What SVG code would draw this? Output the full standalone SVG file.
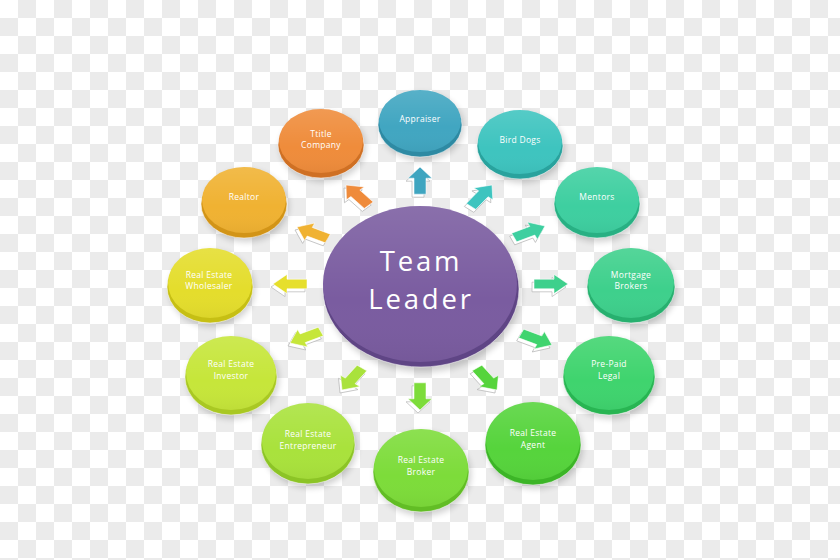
<svg xmlns="http://www.w3.org/2000/svg" xmlns:xlink="http://www.w3.org/1999/xlink" width="840" height="560" viewBox="0 0 840 560">
<defs>
<pattern id="chk" width="36" height="36" patternUnits="userSpaceOnUse">
<rect width="36" height="36" fill="#ffffff"/>
<rect x="18" y="0" width="18" height="18" fill="#ebebeb"/>
<rect x="0" y="18" width="18" height="18" fill="#ebebeb"/>
</pattern>
<linearGradient id="gloss" x1="0" y1="0" x2="0" y2="1">
<stop offset="0" stop-color="#fff" stop-opacity="0.12"/>
<stop offset="0.6" stop-color="#fff" stop-opacity="0"/>
<stop offset="1" stop-color="#000" stop-opacity="0.04"/>
</linearGradient>
<filter id="blur" x="-20%" y="-20%" width="140%" height="140%"><feGaussianBlur stdDeviation="3"/></filter>
<path id="arr" d="M0,0 L-14,-12 L-14,-6 L-34,-6 L-34,6 L-14,6 L-14,12 Z"/>
</defs>
<style>
.lbl{font-family:"Open Sans","Liberation Sans",sans-serif;font-size:8.5px;fill:#ffffff;text-anchor:middle;letter-spacing:0.3px}
.big{font-family:"Open Sans","Liberation Sans",sans-serif;font-size:27.5px;fill:#ffffff;text-anchor:middle;letter-spacing:2.8px}
.sh{fill:#000;opacity:0.18;filter:url(#blur)}
.rim{stroke:#ffffff;stroke-opacity:0.5;stroke-width:1}
.ash{fill:#ffffff;stroke:#b8b8b8;stroke-width:0.8}
.aw{stroke:#ffffff;stroke-width:0.6}
</style>
<rect width="840" height="560" fill="url(#chk)"/>

<g id="connectors">
<use xlink:href="#arr" class="ash" transform="translate(418,170) scale(1,0.8) rotate(-90)"/>
<use xlink:href="#arr" class="aw" fill="#3fa5c0" transform="translate(420,167) scale(1,0.8) rotate(-90)"/>
<use xlink:href="#arr" class="ash" transform="translate(344,188) scale(1,0.8) rotate(-132)"/>
<use xlink:href="#arr" class="aw" fill="#ef8b3b" transform="translate(346,185) scale(1,0.8) rotate(-132)"/>
<use xlink:href="#arr" class="ash" transform="translate(490,188) scale(1,0.8) rotate(-52)"/>
<use xlink:href="#arr" class="aw" fill="#3ec4bf" transform="translate(492,185) scale(1,0.8) rotate(-52)"/>
<use xlink:href="#arr" class="ash" transform="translate(295,230) scale(1,0.8) rotate(-155)"/>
<use xlink:href="#arr" class="aw" fill="#f0b232" transform="translate(297,227) scale(1,0.8) rotate(-155)"/>
<use xlink:href="#arr" class="ash" transform="translate(271,287) scale(1,0.8) rotate(180)"/>
<use xlink:href="#arr" class="aw" fill="#e6df2c" transform="translate(273,284) scale(1,0.8) rotate(180)"/>
<use xlink:href="#arr" class="ash" transform="translate(543,229) scale(1,0.8) rotate(-25)"/>
<use xlink:href="#arr" class="aw" fill="#3ecfa0" transform="translate(545,226) scale(1,0.8) rotate(-25)"/>
<use xlink:href="#arr" class="ash" transform="translate(566,287) scale(1,0.8) rotate(0)"/>
<use xlink:href="#arr" class="aw" fill="#3ed08c" transform="translate(568,284) scale(1,0.8) rotate(0)"/>
<use xlink:href="#arr" class="ash" transform="translate(550,348) scale(1,0.8) rotate(25)"/>
<use xlink:href="#arr" class="aw" fill="#3fd46e" transform="translate(552,345) scale(1,0.8) rotate(25)"/>
<use xlink:href="#arr" class="ash" transform="translate(288,346) scale(1,0.8) rotate(155)"/>
<use xlink:href="#arr" class="aw" fill="#c6e63a" transform="translate(290,343) scale(1,0.8) rotate(155)"/>
<use xlink:href="#arr" class="ash" transform="translate(340,393) scale(1,0.8) rotate(126)"/>
<use xlink:href="#arr" class="aw" fill="#a9e23c" transform="translate(342,390) scale(1,0.8) rotate(126)"/>
<use xlink:href="#arr" class="ash" transform="translate(418,413) scale(1,0.8) rotate(90)"/>
<use xlink:href="#arr" class="aw" fill="#7ddc3a" transform="translate(420,410) scale(1,0.8) rotate(90)"/>
<use xlink:href="#arr" class="ash" transform="translate(495,393) scale(1,0.8) rotate(54)"/>
<use xlink:href="#arr" class="aw" fill="#56d43c" transform="translate(497,390) scale(1,0.8) rotate(54)"/>
</g>

<g id="team-leader">
<ellipse class="sh" cx="423" cy="292" rx="98" ry="80"/>
<ellipse class="rim" cx="421" cy="289" rx="98" ry="78" fill="#5f4585"/>
<ellipse cx="420" cy="284" rx="97" ry="78" fill="#7a5ca0"/>
<ellipse cx="420" cy="284" rx="97" ry="78" fill="url(#gloss)"/>
<text class="big" x="421" y="271">Team</text>
<text class="big" x="421" y="309">Leader</text>
</g>

<g id="appraiser">
<ellipse class="sh" cx="422" cy="127" rx="42" ry="34"/>
<ellipse class="rim" cx="420" cy="125" rx="42" ry="32" fill="#2e8aa3"/>
<ellipse cx="420" cy="121" rx="41" ry="31" fill="#41a6c1"/>
<ellipse cx="420" cy="121" rx="41" ry="31" fill="url(#gloss)"/>
<text class="lbl" x="420" y="122">Appraiser</text>
</g>

<g id="title-company">
<ellipse class="sh" cx="323" cy="147" rx="43" ry="35"/>
<ellipse class="rim" cx="321" cy="145" rx="43" ry="33" fill="#cf7024"/>
<ellipse cx="321" cy="141" rx="42" ry="32" fill="#ef8c3b"/>
<ellipse cx="321" cy="141" rx="42" ry="32" fill="url(#gloss)"/>
<text class="lbl" x="321" y="137">Ttitle</text>
<text class="lbl" x="321" y="148">Company</text>
</g>

<g id="bird-dogs">
<ellipse class="sh" cx="522" cy="148" rx="43" ry="35"/>
<ellipse class="rim" cx="520" cy="146" rx="43" ry="33" fill="#29a29d"/>
<ellipse cx="520" cy="142" rx="42" ry="32" fill="#3ec4bf"/>
<ellipse cx="520" cy="142" rx="42" ry="32" fill="url(#gloss)"/>
<text class="lbl" x="520" y="143">Bird Dogs</text>
</g>

<g id="realtor">
<ellipse class="sh" cx="246" cy="206" rx="43" ry="36"/>
<ellipse class="rim" cx="244" cy="204" rx="43" ry="34" fill="#d29417"/>
<ellipse cx="244" cy="200" rx="42" ry="33" fill="#f0b232"/>
<ellipse cx="244" cy="200" rx="42" ry="33" fill="url(#gloss)"/>
<text class="lbl" x="244" y="200">Realtor</text>
</g>

<g id="real-estate-wholesaler">
<ellipse class="sh" cx="212" cy="289" rx="43" ry="38"/>
<ellipse class="rim" cx="210" cy="287" rx="43" ry="36" fill="#c6bf14"/>
<ellipse cx="210" cy="283" rx="42" ry="35" fill="#e4dd2c"/>
<ellipse cx="210" cy="283" rx="42" ry="35" fill="url(#gloss)"/>
<text class="lbl" x="209" y="278">Real Estate</text>
<text class="lbl" x="209" y="289">Wholesaler</text>
</g>

<g id="mentors">
<ellipse class="sh" cx="599" cy="206" rx="43" ry="36"/>
<ellipse class="rim" cx="597" cy="204" rx="43" ry="34" fill="#28b083"/>
<ellipse cx="597" cy="200" rx="42" ry="33" fill="#3ecfa0"/>
<ellipse cx="597" cy="200" rx="42" ry="33" fill="url(#gloss)"/>
<text class="lbl" x="597" y="200">Mentors</text>
</g>

<g id="mortgage-brokers">
<ellipse class="sh" cx="633" cy="289" rx="44" ry="38"/>
<ellipse class="rim" cx="631" cy="287" rx="44" ry="36" fill="#27b06f"/>
<ellipse cx="631" cy="283" rx="43" ry="35" fill="#3ed08c"/>
<ellipse cx="631" cy="283" rx="43" ry="35" fill="url(#gloss)"/>
<text class="lbl" x="631" y="278">Mortgage</text>
<text class="lbl" x="631" y="289">Brokers</text>
</g>

<g id="pre-paid-legal">
<ellipse class="sh" cx="611" cy="379" rx="46" ry="40"/>
<ellipse class="rim" cx="609" cy="377" rx="46" ry="38" fill="#28b552"/>
<ellipse cx="609" cy="373" rx="45" ry="37" fill="#3fd46e"/>
<ellipse cx="609" cy="373" rx="45" ry="37" fill="url(#gloss)"/>
<text class="lbl" x="609" y="367">Pre-Paid</text>
<text class="lbl" x="609" y="379">Legal</text>
</g>

<g id="real-estate-investor">
<ellipse class="sh" cx="233" cy="379" rx="46" ry="40"/>
<ellipse class="rim" cx="231" cy="377" rx="46" ry="38" fill="#a9c823"/>
<ellipse cx="231" cy="373" rx="45" ry="37" fill="#c6e63a"/>
<ellipse cx="231" cy="373" rx="45" ry="37" fill="url(#gloss)"/>
<text class="lbl" x="231" y="367">Real Estate</text>
<text class="lbl" x="231" y="379">Investor</text>
</g>

<g id="real-estate-entrepreneur">
<ellipse class="sh" cx="310" cy="447" rx="47" ry="41"/>
<ellipse class="rim" cx="308" cy="445" rx="47" ry="39" fill="#8cc426"/>
<ellipse cx="308" cy="441" rx="46" ry="38" fill="#a9e23c"/>
<ellipse cx="308" cy="441" rx="46" ry="38" fill="url(#gloss)"/>
<text class="lbl" x="308" y="437">Real Estate</text>
<text class="lbl" x="308" y="449">Entrepreneur</text>
</g>

<g id="real-estate-broker">
<ellipse class="sh" cx="423" cy="474" rx="48" ry="42"/>
<ellipse class="rim" cx="421" cy="472" rx="48" ry="40" fill="#62bd25"/>
<ellipse cx="421" cy="468" rx="47" ry="39" fill="#7ddc3a"/>
<ellipse cx="421" cy="468" rx="47" ry="39" fill="url(#gloss)"/>
<text class="lbl" x="421" y="463">Real Estate</text>
<text class="lbl" x="421" y="475">Broker</text>
</g>

<g id="real-estate-agent">
<ellipse class="sh" cx="535" cy="447" rx="48" ry="42"/>
<ellipse class="rim" cx="533" cy="445" rx="48" ry="40" fill="#3cb527"/>
<ellipse cx="533" cy="441" rx="47" ry="39" fill="#56d43c"/>
<ellipse cx="533" cy="441" rx="47" ry="39" fill="url(#gloss)"/>
<text class="lbl" x="533" y="436">Real Estate</text>
<text class="lbl" x="533" y="448">Agent</text>
</g>
</svg>
